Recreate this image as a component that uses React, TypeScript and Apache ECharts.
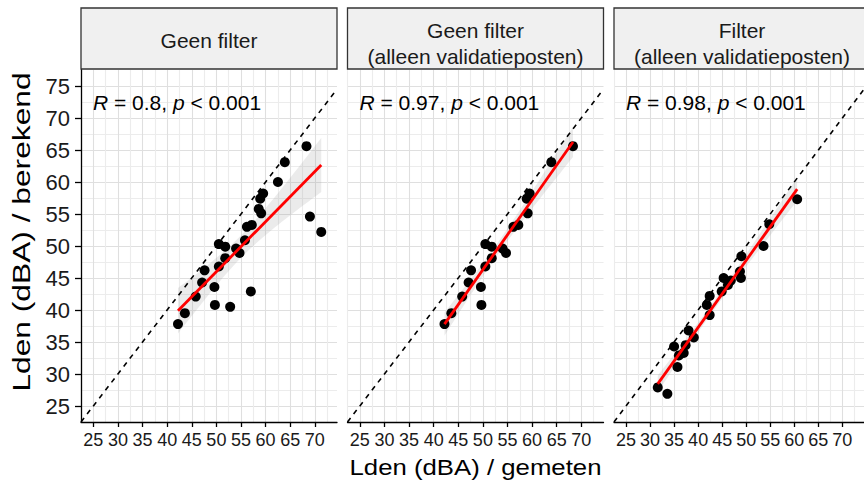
import { useEffect, useRef } from "react";
import * as echarts from "echarts";

// ---------- data ----------
const stripTitles: string[][] = [
  ["Geen filter"],
  ["Geen filter", "(alleen validatieposten)"],
  ["Filter", "(alleen validatieposten)"],
];
const rLabels = ["0.8", "0.97", "0.98"];
const pLabel = "0.001";
const xTitle = "Lden (dBA) / gemeten";
const yTitle = "Lden (dBA) / berekend";

const xTicks = [25, 30, 35, 40, 45, 50, 55, 60, 65, 70];
const yTicks = [25, 30, 35, 40, 45, 50, 55, 60, 65, 70, 75];
const xRange = [22.5, 74.5];
const yRange = [22.5, 77.5];

// Panel 1: geen filter (alle punten)
const allX = [68.3, 63.9, 59.5, 58.9, 59.1, 57.2, 56.2, 50.5, 51.8, 54.0, 54.7, 51.8, 50.5, 47.6, 47.1, 49.6, 45.8, 49.7, 43.6, 42.2, 62.5, 69.0, 71.3, 55.8, 57.0, 52.8, 58.6];
const allY = [65.6, 63.1, 58.2, 57.4, 55.1, 53.3, 53.0, 50.3, 49.9, 49.6, 48.9, 48.1, 46.8, 46.2, 44.3, 43.6, 42.1, 40.8, 39.5, 37.8, 60.0, 54.6, 52.2, 50.9, 42.9, 40.5, 55.8];
// Panel 2: geen filter (alleen validatieposten)
const valX = [68.3, 63.9, 59.5, 58.9, 59.1, 57.2, 56.2, 50.5, 51.8, 54.0, 54.7, 51.8, 50.5, 47.6, 47.1, 49.6, 45.8, 49.7, 43.6, 42.2];
const valY = [65.6, 63.1, 58.2, 57.4, 55.1, 53.3, 53.0, 50.3, 49.9, 49.6, 48.9, 48.1, 46.8, 46.2, 44.3, 43.6, 42.1, 40.8, 39.5, 37.8];
// Panel 3: filter (alleen validatieposten)
const filtX = [60.6, 54.8, 53.6, 49.0, 48.7, 48.9, 45.3, 46.8, 46.2, 44.9, 42.4, 41.8, 42.4, 38.0, 39.1, 37.4, 35.0, 37.0, 36.0, 35.7, 31.6, 33.6];
const filtY = [57.3, 53.4, 50.0, 48.4, 46.0, 45.0, 45.0, 44.6, 43.9, 42.9, 42.2, 40.8, 39.2, 36.8, 35.7, 34.5, 34.3, 33.3, 32.9, 31.1, 27.9, 26.9];

const panelsX = [allX, valX, filtX];
const panelsY = [allY, valY, filtY];

// ---------- layout ----------
const PANEL_LEFT = [81, 347.5, 614];
const PANEL_W = 256;
const PANEL_TOP = 70;
const PANEL_H = 352;
const STRIP_TOP = 8;
const FONT = "'Liberation Sans', Arial, Helvetica, sans-serif";

function lmFit(xs: number[], ys: number[]) {
  const n = xs.length;
  const mx = xs.reduce((a, b) => a + b, 0) / n;
  const my = ys.reduce((a, b) => a + b, 0) / n;
  let sxx = 0, sxy = 0, syy = 0;
  for (let i = 0; i < n; i++) {
    const dx = xs[i] - mx, dy = ys[i] - my;
    sxx += dx * dx; sxy += dx * dy; syy += dy * dy;
  }
  const b = sxy / sxx;
  const a = my - b * mx;
  const s = Math.sqrt(Math.max(syy - b * sxy, 0) / (n - 2));
  const t = 1.96 + 2.4 / (n - 2);
  const x0 = Math.min(...xs), x1 = Math.max(...xs);
  const line = [[x0, a + b * x0], [x1, a + b * x1]];
  const upper: number[][] = [], lower: number[][] = [];
  const steps = 40;
  for (let i = 0; i <= steps; i++) {
    const x = x0 + ((x1 - x0) * i) / steps;
    const yh = a + b * x;
    const h = t * s * Math.sqrt(1 / n + ((x - mx) * (x - mx)) / sxx);
    upper.push([x, yh + h]);
    lower.push([x, yh - h]);
  }
  return { line, band: upper.concat(lower.reverse()) };
}

export default function App() {
  const ref = useRef<HTMLDivElement>(null);
  useEffect(() => {
    if (!ref.current) return;
    const chart = echarts.init(ref.current, null, { renderer: "svg" });

    const grids: any[] = [];
    const xAxes: any[] = [];
    const yAxes: any[] = [];
    const series: any[] = [];
    const graphics: any[] = [];
    const minor = "#ECECEC";
    const major = "#DFDFDF";

    for (let g = 0; g < 3; g++) {
      grids.push({ left: PANEL_LEFT[g], top: PANEL_TOP, width: PANEL_W, height: PANEL_H });
      // main x axis
      xAxes.push({
        type: "value", gridIndex: g, min: xRange[0], max: xRange[1], position: "bottom",
        axisLine: { show: true, onZero: false, lineStyle: { color: "#000", width: 1.3 } },
        axisTick: { show: true, length: 5, customValues: xTicks, lineStyle: { color: "#000", width: 1.3 } },
        axisLabel: { show: true, customValues: xTicks, margin: 9, fontSize: 18, color: "#1a1a1a", fontFamily: FONT },
        splitLine: { show: false },
        z: 5,
      });
      // grid x axis
      xAxes.push({
        type: "value", gridIndex: g, min: xRange[0], max: xRange[1], interval: 2.5, position: "bottom",
        axisLine: { show: false }, axisTick: { show: false }, axisLabel: { show: false },
        splitLine: { show: true, showMaxLine: false, lineStyle: { color: [minor, major], width: 1.1 } },
      });
      // main y axis
      yAxes.push({
        type: "value", gridIndex: g, min: yRange[0], max: yRange[1], position: "left",
        axisLine: { show: g === 0, onZero: false, lineStyle: { color: "#000", width: 1.3 } },
        axisTick: { show: g === 0, length: 6, customValues: yTicks, lineStyle: { color: "#000", width: 1.3 } },
        axisLabel: { show: g === 0, customValues: yTicks, margin: 11, fontSize: 22, color: "#1a1a1a", fontFamily: FONT },
        splitLine: { show: false },
        z: 5,
      });
      // grid y axis
      yAxes.push({
        type: "value", gridIndex: g, min: yRange[0], max: yRange[1], interval: 2.5, position: "left",
        axisLine: { show: false }, axisTick: { show: false }, axisLabel: { show: false },
        splitLine: { show: true, showMaxLine: false, lineStyle: { color: [minor, major], width: 1.1 } },
      });

      const xi = 2 * g, yi = 2 * g;
      const xs = panelsX[g], ys = panelsY[g];
      const fit = lmFit(xs, ys);

      series.push({
        type: "line", xAxisIndex: xi, yAxisIndex: yi, silent: true,
        data: [[xRange[0], xRange[0]], [xRange[1], xRange[1]]],
        symbol: "none", clip: true,
        lineStyle: { color: "#000", width: 1.6, type: [5, 5] },
      });
      series.push({
        type: "scatter", xAxisIndex: xi, yAxisIndex: yi, silent: true,
        data: xs.map((x, i) => [x, ys[i]]),
        symbolSize: 10,
        itemStyle: { color: "#000", opacity: 1 },
      });
      series.push({
        type: "custom", xAxisIndex: xi, yAxisIndex: yi, silent: true, clip: true,
        data: [fit.band[0]],
        renderItem: (_p: any, api: any) => ({
          type: "polygon",
          shape: { points: fit.band.map((pt) => api.coord(pt)) },
          style: { fill: "rgba(153,153,153,0.2)" },
        }),
      });
      series.push({
        type: "line", xAxisIndex: xi, yAxisIndex: yi, silent: true,
        data: fit.line, symbol: "none",
        lineStyle: { color: "#FF0000", width: 2.8 },
      });

      // strip
      graphics.push({
        type: "rect",
        shape: { x: PANEL_LEFT[g], y: STRIP_TOP, width: PANEL_W, height: PANEL_TOP - STRIP_TOP - 1 },
        style: { fill: "#F0F0F0", stroke: "#333", lineWidth: 1.3 },
      });
      const lines = stripTitles[g];
      const cx = PANEL_LEFT[g] + PANEL_W / 2;
      if (lines.length === 1) {
        graphics.push({ type: "text", style: { text: lines[0], x: cx, y: 40.5, align: "center", verticalAlign: "middle", fontSize: 21, fontFamily: FONT, fill: "#1a1a1a" } });
      } else {
        graphics.push({ type: "text", style: { text: lines[0], x: cx, y: 30, align: "center", verticalAlign: "middle", fontSize: 21, fontFamily: FONT, fill: "#1a1a1a" } });
        graphics.push({ type: "text", style: { text: lines[1], x: cx, y: 56, align: "center", verticalAlign: "middle", fontSize: 21, fontFamily: FONT, fill: "#1a1a1a" } });
      }
      // R label
      graphics.push({
        type: "text",
        z: 10,
        style: {
          text: `{i|R} = ${rLabels[g]}, {i|p} < ${pLabel}`,
          x: PANEL_LEFT[g] + 12, y: 102, align: "left", verticalAlign: "middle",
          fontSize: 21, fontFamily: FONT, fill: "#000",
          rich: { i: { fontStyle: "italic", fontSize: 21, fontFamily: FONT, fill: "#000" } },
        },
      });
    }

    // axis titles
    graphics.push({
      type: "text", x: 475.5, y: 467, scaleX: 1.12,
      style: { text: xTitle, x: 0, y: 0, align: "center", verticalAlign: "middle", fontSize: 23, fontFamily: FONT, fill: "#000" },
    });
    graphics.push({
      type: "text", x: 22, y: 232, rotation: Math.PI / 2, scaleX: 1.38,
      style: { text: yTitle, x: 0, y: 0, align: "center", verticalAlign: "middle", fontSize: 23, fontFamily: FONT, fill: "#000" },
    });

    chart.setOption({
      animation: false,
      backgroundColor: "#fff",
      textStyle: { fontFamily: FONT },
      grid: grids,
      xAxis: xAxes,
      yAxis: yAxes,
      series,
      graphic: { elements: graphics },
    });
    return () => chart.dispose();
  }, []);
  return <div ref={ref} style={{ position: "fixed", left: 0, top: 0, width: 864, height: 485 }} />;
}
